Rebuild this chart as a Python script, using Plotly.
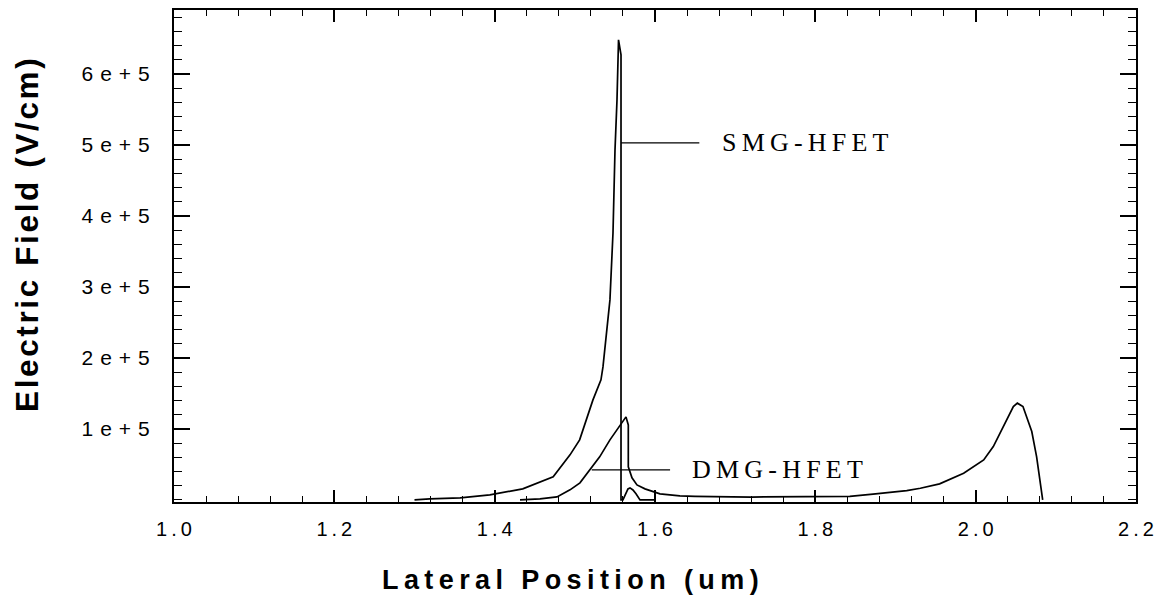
import plotly.graph_objects as go

# ---- data ----
smg_x = [1.300, 1.319, 1.357, 1.394, 1.435, 1.473, 1.494, 1.506, 1.5226, 1.5326, 1.5351,
         1.5438, 1.5476, 1.5501, 1.5526, 1.5545, 1.5576, 1.5576,
         1.5600, 1.5638, 1.5663, 1.5688, 1.5725, 1.5763, 1.5813, 1.600]
smg_y = [0, 1400, 2800, 7000, 15500, 32400, 63400, 84500, 140800, 169000, 187300,
         281700, 376000, 493000, 563400, 647900, 626800, 0,
         0, 8500, 15500, 16900, 14000, 8500, 0, 0]

dmg_x = [1.4316, 1.4565, 1.4777, 1.494, 1.5064, 1.519, 1.531, 1.5438, 1.5588, 1.5620, 1.5638,
         1.5667, 1.5667, 1.5713, 1.5775, 1.5875, 1.6062, 1.631, 1.65, 1.72, 1.78, 1.843, 1.872,
         1.914, 1.931, 1.955, 1.985, 2.010, 2.022, 2.034, 2.047, 2.052, 2.059, 2.070, 2.076, 2.0836]
dmg_y = [0, 1400, 4200, 14100, 24000, 42300, 60600, 84500, 108500, 114500, 116900,
         105600, 46500, 31000, 21100, 15500, 8500, 5600, 5000, 4000, 4000, 5000, 8000,
         13100, 16400, 22500, 37600, 56300, 75100, 103200, 131400, 136200, 131400, 96200, 61000, 0]

T = "\u2009"
x_tickvals = [1.0, 1.2, 1.4, 1.6, 1.8, 2.0, 2.2]
x_ticktext = [T.join(list(f"{v:.1f}")) for v in x_tickvals]
y_tickvals = [100000, 200000, 300000, 400000, 500000, 600000]
SP = "\u2004"
y_ticktext = [f"{d}{SP}e{SP}+{SP}5" for d in range(1, 7)]

labels = ["SMG-HFET", "DMG-HFET"]
label_text = [T.join(list(s)) for s in labels]
pointer_x0 = [1.5576, 1.5211]
pointer_x1 = [1.6553, 1.6188]
pointer_y = [502800, 42300]
label_x = [1.681, 1.6436]

x_title = "Lateral Position (um)"
y_title = "Electric Field (V/cm)"

fig = go.Figure()
fig.add_trace(go.Scatter(x=smg_x, y=smg_y, mode="lines", name=labels[0],
                         line=dict(color="black", width=1.7)))
fig.add_trace(go.Scatter(x=dmg_x, y=dmg_y, mode="lines", name=labels[1],
                         line=dict(color="black", width=1.7)))

for i in range(2):
    fig.add_shape(type="line", x0=pointer_x0[i], x1=pointer_x1[i], y0=pointer_y[i], y1=pointer_y[i],
                  xref="x", yref="y", line=dict(color="black", width=1.2))
    fig.add_annotation(x=label_x[i], y=pointer_y[i], xref="x", yref="y", text=label_text[i],
                       showarrow=False, xanchor="left", yanchor="middle", yshift=0,
                       font=dict(family="Liberation Serif, Times New Roman, serif", size=26, color="black"))

# plot area (page px): left 174, top 10, width 962, height 492
fig.add_annotation(x=(570 - 174) / 962, y=-(580 - 502) / 492, xref="paper", yref="paper",
                   text="<b>" + T.join(list(x_title)) + "</b>", showarrow=False,
                   xanchor="center", yanchor="middle",
                   font=dict(family="Liberation Sans, Arial, sans-serif", size=27, color="black"))
fig.add_annotation(x=-(174 - 27) / 962, y=(502 - 235) / 492, xref="paper", yref="paper",
                   text="<b>" + "\u200a".join(list(y_title)) + "</b>", showarrow=False, textangle=-90,
                   xanchor="center", yanchor="middle",
                   font=dict(family="Liberation Sans, Arial, sans-serif", size=31.5, color="black"))

fig.update_xaxes(range=[1.0, 2.2], tickvals=x_tickvals, ticktext=x_ticktext,
                 ticks="inside", ticklen=12, tickwidth=1.5, tickcolor="black",
                 showline=True, linecolor="black", linewidth=2, mirror="allticks",
                 showgrid=False, zeroline=False, ticklabelstandoff=8, automargin=False,
                 tickfont=dict(family="Liberation Sans, Arial, sans-serif", size=20, color="black"),
                 minor=dict(ticks="inside", ticklen=6, tickwidth=1.2, tickcolor="black", dtick=0.04,
                            tick0=1.0, showgrid=False))
fig.update_yaxes(range=[-3000, 690000], tickvals=y_tickvals, ticktext=y_ticktext,
                 ticks="inside", ticklen=16, tickwidth=1.5, tickcolor="black",
                 showline=True, linecolor="black", linewidth=2, mirror="allticks",
                 showgrid=False, zeroline=False, ticklabelstandoff=18, automargin=False,
                 tickfont=dict(family="Liberation Sans, Arial, sans-serif", size=21, color="black"),
                 minor=dict(ticks="inside", ticklen=8, tickwidth=1.2, tickcolor="black", dtick=20000,
                            tick0=0, showgrid=False))

fig.update_layout(width=1158, height=603, margin=dict(l=174, r=22, t=10, b=101, autoexpand=False),
                  paper_bgcolor="white", plot_bgcolor="white", showlegend=False)

fig.write_html("out.html", config={"displayModeBar": False},
               post_script="document.body.style.margin='0px';document.body.style.overflow='hidden';")
